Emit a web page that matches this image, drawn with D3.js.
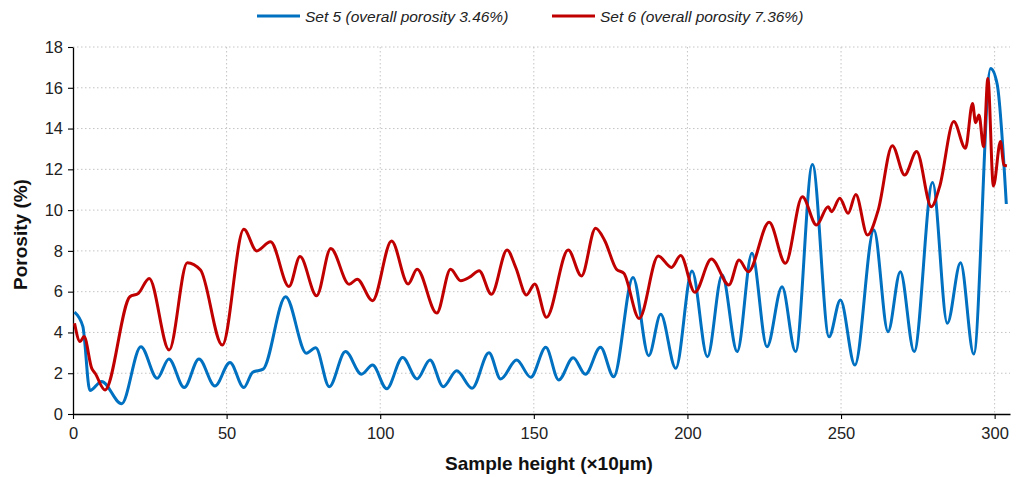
<!DOCTYPE html>
<html>
<head>
<meta charset="utf-8">
<script src="https://cdn.jsdelivr.net/npm/d3@7"></script>
<style>
  body { margin: 0; background: #fff; }
  text { font-family: "Liberation Sans", Arial, sans-serif; }
</style>
</head>
<body>
<div id="chart"></div>
<script>
// sample height (x10 µm) and porosity (%) at peaks/troughs
const set5X = [0.5, 3.2, 5.5, 9.3, 15.8, 22.1, 27.4, 31.2, 36.2, 41, 46.2, 51.1, 55.6, 58.5, 61.9, 69.2, 76, 79, 83.4, 88.7, 93.9, 97.5, 102.1, 107.3, 112, 116.2, 120.5, 124.9, 129.9, 135.4, 139.2, 144.4, 149, 153.9, 158.1, 162.8, 166.8, 171.7, 176, 182.3, 187.4, 191.3, 196.2, 201.5, 206.5, 211.3, 216.2, 221, 225.9, 230.8, 235.2, 240.7, 246.1, 249.8, 254.5, 260.7, 265.3, 269.3, 273.8, 279.8, 284.6, 288.9, 293.2, 298.7, 300.8, 303.8];
const set5Y = [5.0, 4.3, 1.15, 1.6, 0.5, 3.3, 1.75, 2.7, 1.3, 2.7, 1.37, 2.53, 1.3, 2.05, 2.2, 5.75, 2.98, 3.25, 1.34, 3.06, 1.95, 2.4, 1.24, 2.77, 1.72, 2.65, 1.34, 2.12, 1.26, 3.0, 1.72, 2.65, 1.8, 3.27, 1.67, 2.76, 1.95, 3.27, 1.83, 6.7, 2.86, 4.89, 2.24, 7.01, 2.81, 6.82, 3.06, 7.88, 3.3, 6.24, 3.06, 12.24, 3.79, 5.59, 2.4, 9.02, 4.04, 6.98, 3.06, 11.35, 4.45, 7.42, 2.94, 16.95, 16.2, 10.3];

const set6X = [0.5, 2.3, 3.6, 6.1, 7.2, 10.4, 18.5, 21.3, 24.8, 31.3, 37.2, 41.5, 48.6, 55.6, 59.8, 64.3, 70.3, 73.9, 79.3, 83.9, 89.9, 92.5, 97.5, 103.7, 109.1, 112, 118.4, 122.9, 126.2, 129.4, 132.2, 136.2, 141.3, 144.1, 147.6, 150.3, 154.1, 161.2, 165.5, 170.1, 173.1, 176.9, 179.3, 184.3, 190.5, 194.8, 197.8, 202.4, 207.8, 213.5, 216.8, 219.8, 226.6, 231.9, 237.4, 242, 245.8, 246.9, 249.6, 252.3, 254.8, 258.6, 262.1, 266.7, 270.7, 274.6, 279.4, 282.1, 286.7, 290.5, 292.8, 293.8, 294.9, 296.4, 297.8, 299.6, 301.9, 303, 304];
const set6Y = [4.45, 3.55, 3.8, 2.24, 2.0, 1.18, 5.75, 5.92, 6.65, 3.14, 7.42, 7.06, 3.38, 9.06, 8.0, 8.45, 6.25, 7.72, 5.8, 8.12, 6.36, 6.61, 5.56, 8.48, 6.38, 7.1, 4.95, 7.1, 6.54, 6.74, 7.03, 5.87, 8.04, 7.19, 5.84, 6.38, 4.74, 8.04, 6.77, 9.11, 8.5, 7.1, 6.9, 4.69, 7.75, 7.19, 7.77, 5.97, 7.6, 6.33, 7.55, 6.98, 9.4, 7.39, 10.66, 9.27, 10.17, 9.92, 10.58, 9.84, 10.77, 8.78, 10.0, 13.16, 11.72, 12.87, 10.17, 11.15, 14.34, 13.03, 15.23, 14.29, 14.66, 13.11, 16.46, 11.18, 13.36, 12.21, 12.17];

const seriesNames = ["Set 5 (overall porosity 3.46%)", "Set 6 (overall porosity 7.36%)"];
const seriesColors = ["#0070C0", "#C00000"];
const xTicks = [0, 50, 100, 150, 200, 250, 300];
const yTicks = [0, 2, 4, 6, 8, 10, 12, 14, 16, 18];

const width = 1020;
const height = 477;
const margin = { top: 47, right: 10, bottom: 63, left: 73 };

const svg = d3
  .select("#chart")
  .append("svg")
  .attr("width", width)
  .attr("height", height);

const x = d3.scaleLinear().domain([0, 305]).range([margin.left, width - margin.right]);
const y = d3.scaleLinear().domain([0, 18]).range([height - margin.bottom, margin.top]);

// dotted grid
svg
  .append("g")
  .selectAll("line")
  .data(yTicks.slice(1))
  .join("line")
  .attr("x1", margin.left)
  .attr("x2", width - margin.right)
  .attr("y1", (d) => y(d))
  .attr("y2", (d) => y(d))
  .attr("stroke", "#c4c4c4")
  .attr("stroke-dasharray", "1.5,2.5");

svg
  .append("g")
  .selectAll("line")
  .data(xTicks.slice(1))
  .join("line")
  .attr("x1", (d) => x(d))
  .attr("x2", (d) => x(d))
  .attr("y1", margin.top)
  .attr("y2", y(0))
  .attr("stroke", "#c4c4c4")
  .attr("stroke-dasharray", "1.5,2.5");

// axes
const xAxis = svg
  .append("g")
  .attr("transform", `translate(0,${y(0)})`)
  .call(d3.axisBottom(x).tickValues(xTicks).tickSize(5).tickSizeOuter(0));
const yAxis = svg
  .append("g")
  .attr("transform", `translate(${margin.left},0)`)
  .call(d3.axisLeft(y).tickValues(yTicks).tickSize(5).tickSizeOuter(0));

[xAxis, yAxis].forEach((g) => {
  g.select(".domain").attr("stroke", "#000").attr("stroke-width", 1.3);
  g.selectAll(".tick line").attr("stroke", "#000").attr("stroke-width", 1.1);
  g.selectAll(".tick text")
    .attr("fill", "#222")
    .style("font-size", "16.5px")
    .style("font-family", "'Liberation Sans', Arial, sans-serif");
});
xAxis.selectAll(".tick text").attr("dy", "1em").attr("y", 8);
yAxis.selectAll(".tick text").attr("x", -10);

// lines
const series = [
  set5X.map((d, i) => [d, set5Y[i]]),
  set6X.map((d, i) => [d, set6Y[i]]),
];
const line = d3
  .line()
  .x((d) => x(d[0]))
  .y((d) => y(d[1]))
  .curve(d3.curveMonotoneX);

svg
  .append("g")
  .selectAll("path")
  .data(series)
  .join("path")
  .attr("d", line)
  .attr("fill", "none")
  .attr("stroke", (d, i) => seriesColors[i])
  .attr("stroke-width", 3)
  .attr("stroke-linejoin", "round");

// axis titles
svg
  .append("text")
  .attr("x", 549)
  .attr("y", 470)
  .attr("text-anchor", "middle")
  .style("font-size", "19px")
  .style("font-weight", "bold")
  .attr("fill", "#111")
  .text("Sample height (×10µm)");

svg
  .append("text")
  .attr("transform", `translate(27,${(margin.top + y(0)) / 2 + 4}) rotate(-90)`)
  .attr("text-anchor", "middle")
  .style("font-size", "19px")
  .style("font-weight", "bold")
  .attr("fill", "#111")
  .text("Porosity (%)");

// legend
const legendX = [257, 552];
const legend = svg
  .append("g")
  .selectAll("g")
  .data(seriesNames)
  .join("g")
  .attr("transform", (d, i) => `translate(${legendX[i]},16)`);
legend
  .append("line")
  .attr("x1", 0)
  .attr("x2", 43)
  .attr("stroke", (d, i) => seriesColors[i])
  .attr("stroke-width", 3);
legend
  .append("text")
  .attr("x", 48)
  .attr("y", 5.5)
  .style("font-size", "15.5px")
  .style("font-style", "italic")
  .attr("fill", "#222")
  .text((d) => d);
</script>
</body>
</html>
